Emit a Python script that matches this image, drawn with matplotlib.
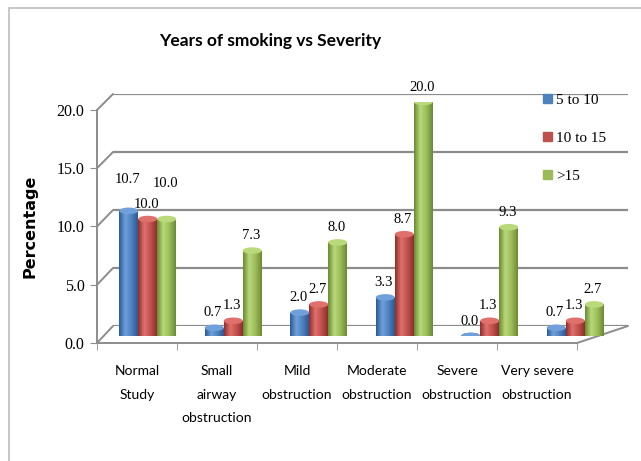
import numpy as np
import matplotlib.pyplot as plt
from matplotlib.patches import Ellipse, Patch, Rectangle, ConnectionPatch
from matplotlib.colors import LinearSegmentedColormap

# data
categories = ["Normal\nStudy", "Small\nairway\nobstruction", "Mild\nobstruction",
              "Moderate\nobstruction", "Severe\nobstruction", "Very severe\nobstruction"]
series_names = ["5 to 10", "10 to 15", ">15"]
yrs_5_10 = [10.7, 0.7, 2.0, 3.3, 0.0, 0.7]
yrs_10_15 = [10.0, 1.3, 2.7, 8.7, 1.3, 1.3]
yrs_15_plus = [10.0, 7.3, 8.0, 20.0, 9.3, 2.7]
y_ticks = [0, 5, 10, 15, 20]

# styling
base_cols = ["#4F81BD", "#C0504D", "#9BBB59"]
shades = [("#2b5a94", "#6fa0dc"), ("#8e2f2c", "#e0706c"), ("#6a8a33", "#b9d97a")]
label_nudge = [[12, 0, 0, 0, 0, 0], [0, 0, 0, 0, 0, 0], [15, 0, 0, 0, 0, 0]]
grid_col = "#8c8c8c"
serif = "Liberation Serif"
sans = "Lato"

W, H = 641, 461
fig = plt.figure(figsize=(W / 100, H / 100), dpi=100)


def px_axes(x0, y0, x1, y1):
    # axes from pixel box (top-left origin)
    return fig.add_axes([x0 / W, 1 - y1 / H, (x1 - x0) / W, (y1 - y0) / H])


# chart frame
fig.add_artist(Rectangle((9 / W, -0.1), 2, 1.1 - 8 / H, transform=fig.transFigure,
                         fill=False, edgecolor="#bdbdbd", lw=1.2))

# back wall, front axis, bar row (3-D look from three aligned axes)
ax_back = px_axes(113, 94, 628, 326)
ax_front = px_axes(97, 110, 577, 343)
ax_bars = px_axes(105, 102, 618, 336)
for a in (ax_back, ax_front, ax_bars):
    a.set_ylim(0, 20)
    a.set_xlim(-0.5, 5.5)
    a.patch.set_alpha(0)

ax_back.set_axis_off()
for t in y_ticks:
    ax_back.axhline(t, color=grid_col, lw=1.6, zorder=0)
    ax_front.add_artist(ConnectionPatch(xyA=(-0.5, t), coordsA=ax_front.transData,
                                        xyB=(-0.5, t), coordsB=ax_back.transData,
                                        color=grid_col, lw=1.4))
ax_front.add_artist(ConnectionPatch(xyA=(5.5, 0), coordsA=ax_front.transData,
                                    xyB=(5.5, 0), coordsB=ax_back.transData,
                                    color=grid_col, lw=1.4))

for s in ("top", "right"):
    ax_front.spines[s].set_visible(False)
for s in ("left", "bottom"):
    ax_front.spines[s].set_color(grid_col)
    ax_front.spines[s].set_linewidth(1.4)
ax_front.set_yticks(y_ticks)
ax_front.set_yticklabels([f"{t:.1f}" for t in y_ticks], fontfamily=serif, fontsize=11.5)
ax_front.tick_params(axis="y", length=5, color=grid_col, pad=4)
ax_front.set_xticks(range(len(categories)))
ax_front.set_xticklabels(categories, fontfamily=sans, fontsize=10, linespacing=2.15,
                         va="top")
ax_front.set_xticks(np.arange(-0.5, 6, 1), minor=True)
ax_front.tick_params(axis="x", which="major", length=0, pad=16)
ax_front.tick_params(axis="x", which="minor", length=5, color=grid_col)
ax_front.set_ylabel("Percentage", fontfamily="DejaVu Sans", fontweight="bold",
                    fontsize=11.5, labelpad=14)

# bars with a cylinder shading
ax_bars.set_axis_off()
bw = 0.222
x = np.arange(len(categories))
cap = 0.28
for k, vals in enumerate([yrs_5_10, yrs_10_15, yrs_15_plus]):
    dark, light = shades[k]
    cmap = LinearSegmentedColormap.from_list("c%d" % k, [dark, light, base_cols[k], dark])
    grad = np.linspace(0, 1, 64).reshape(1, -1)
    xs = x + (k - 1) * bw
    bars = ax_bars.bar(xs, vals, width=bw, color=base_cols[k], lw=0, zorder=2)
    for b, xc, v, nd in zip(bars, xs, vals, label_nudge[k]):
        im = ax_bars.imshow(grad, cmap=cmap, aspect="auto", zorder=2.1,
                            extent=[xc - bw / 2, xc + bw / 2, 0, max(v, 0.01)])
        im.set_clip_path(b)
        ax_bars.add_patch(Ellipse((xc, 0), bw, cap * 2, color=dark, lw=0, zorder=1.9))
        ax_bars.add_patch(Ellipse((xc, v), bw, cap * 2, color=light, lw=0, zorder=2.3))
        ax_bars.annotate(f"{v:.1f}", (xc, v), xytext=(-1, 6 + nd), textcoords="offset points",
                         ha="center", va="bottom", fontfamily=serif, fontsize=10.5,
                         annotation_clip=False)
ax_bars.set_xlim(-0.5, 5.5)
ax_bars.set_ylim(0, 20)

fig.text(270 / W, 1 - 41 / H, "Years of smoking vs Severity", ha="center", va="center",
         fontfamily=sans, fontsize=12.5, fontweight="bold")

handles = [Patch(color=c) for c in base_cols]
fig.legend(handles, series_names, loc="upper left", bbox_to_anchor=(537 / W, 1 - 88 / H),
           frameon=False, prop={"family": serif, "size": 11}, handlelength=0.55,
           handleheight=0.55, handletextpad=0.3, labelspacing=1.62, borderaxespad=0)

fig.savefig("out.png", dpi=100)
